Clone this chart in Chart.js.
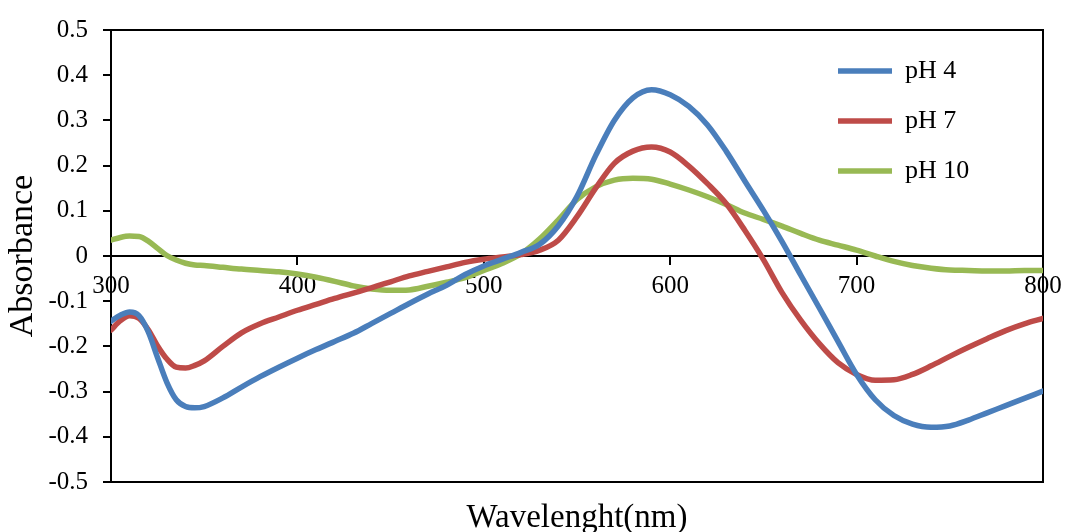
<!DOCTYPE html>
<html>
<head>
<meta charset="utf-8">
<script src="https://cdn.jsdelivr.net/npm/chart.js@4.4.1/dist/chart.umd.min.js"></script>
<style>
  html, body { margin: 0; padding: 0; background: #fff; }
  #wrap { width: 1065px; height: 532px; }
</style>
</head>
<body>
<div id="wrap"><canvas id="c" width="1065" height="532"></canvas></div>
<script>
const wavelengths = [300,305,310,315,320,325,330,335,340,345,350,360,370,380,390,400,410,420,430,440,450,460,470,480,490,500,510,520,530,540,550,560,570,580,590,600,610,620,630,640,650,660,670,680,690,700,710,720,730,740,750,760,770,780,790,800];

const pH4 = [-0.144,-0.131,-0.124,-0.132,-0.168,-0.225,-0.280,-0.318,-0.333,-0.336,-0.333,-0.314,-0.290,-0.267,-0.246,-0.226,-0.207,-0.189,-0.171,-0.149,-0.127,-0.105,-0.084,-0.065,-0.041,-0.022,-0.007,0.008,0.026,0.067,0.132,0.222,0.300,0.350,0.368,0.357,0.331,0.290,0.232,0.166,0.101,0.032,-0.042,-0.115,-0.189,-0.262,-0.318,-0.353,-0.372,-0.379,-0.376,-0.363,-0.347,-0.331,-0.315,-0.299];

const pH7 = [-0.164,-0.143,-0.132,-0.138,-0.163,-0.199,-0.228,-0.246,-0.248,-0.242,-0.232,-0.200,-0.170,-0.150,-0.135,-0.120,-0.107,-0.094,-0.082,-0.070,-0.057,-0.044,-0.034,-0.024,-0.014,-0.007,-0.002,0.003,0.013,0.035,0.087,0.150,0.205,0.232,0.241,0.230,0.199,0.160,0.116,0.057,-0.008,-0.081,-0.142,-0.194,-0.236,-0.262,-0.275,-0.274,-0.262,-0.243,-0.222,-0.202,-0.183,-0.165,-0.150,-0.138];

const pH10 = [0.035,0.041,0.044,0.043,0.033,0.017,0.001,-0.009,-0.016,-0.020,-0.021,-0.025,-0.029,-0.032,-0.035,-0.040,-0.047,-0.056,-0.066,-0.073,-0.076,-0.075,-0.067,-0.058,-0.048,-0.032,-0.016,0.005,0.038,0.080,0.125,0.153,0.168,0.172,0.170,0.159,0.146,0.131,0.114,0.095,0.081,0.066,0.050,0.035,0.024,0.013,0.000,-0.012,-0.021,-0.027,-0.031,-0.032,-0.033,-0.033,-0.032,-0.032];

const seriesLabels = ['pH 4', 'pH 7', 'pH 10'];
const xTicks = [300, 400, 500, 600, 700, 800];
const yTicks = [-0.5, -0.4, -0.3, -0.2, -0.1, 0, 0.1, 0.2, 0.3, 0.4, 0.5];
const xTitle = 'Wavelenght(nm)';
const yTitle = 'Absorbance';

const colors = ['#4A7EBB', '#BE4B48', '#98B954'];
const FONT = "'Liberation Serif', 'Times New Roman', serif";

function toPoints(vals) { return wavelengths.map((w, i) => ({ x: w, y: vals[i] })); }

const plotBox = {
  id: 'plotBox',
  beforeDatasetsDraw(chart) {
    const { ctx, chartArea: a } = chart;
    ctx.save();
    ctx.strokeStyle = '#000';
    ctx.lineWidth = 2;
    ctx.strokeRect(a.left, a.top, a.right - a.left, a.bottom - a.top);
    ctx.restore();
  }
};

const legendPlace = {
  id: 'legendPlace',
  afterLayout(chart) { place(chart); },
  beforeDraw(chart) { place(chart); }
};
function place(chart) {
  const lg = chart.legend;
  if (!lg) return;
  const w = lg.width, h = lg.height;
  lg.left = 814; lg.top = 34; lg.right = lg.left + w; lg.bottom = lg.top + h;
}

const datasets = [pH4, pH7, pH10].map((vals, i) => ({
  label: seriesLabels[i],
  data: toPoints(vals),
  borderColor: colors[i],
  backgroundColor: colors[i],
  borderWidth: 5.5,
  borderCapStyle: 'round',
  borderJoinStyle: 'round',
  pointRadius: 0,
  pointHoverRadius: 0,
  cubicInterpolationMode: 'monotone',
  fill: false
}));

new Chart(document.getElementById('c'), {
  type: 'line',
  data: { datasets },
  plugins: [plotBox, legendPlace],
  options: {
    responsive: false,
    animation: false,
    devicePixelRatio: 1,
    layout: { padding: { top: 25, right: 22, left: 0, bottom: 0 } },
    plugins: {
      tooltip: { enabled: false },
      legend: {
        position: 'chartArea',
        align: 'start',
        labels: {
          color: '#000',
          font: { family: FONT, size: 26 },
          usePointStyle: true,
          pointStyle: 'line',
          pointStyleWidth: 54,
          padding: 24
        }
      }
    },
    scales: {
      x: {
        type: 'linear',
        position: { y: 0 },
        min: 300, max: 800,
        afterBuildTicks: s => { s.ticks = xTicks.map(v => ({ value: v })); },
        afterFit: s => { s.paddingLeft = 0; s.paddingRight = 0; },
        ticks: {
          color: '#000',
          font: { family: FONT, size: 25 },
          padding: 7,
          maxRotation: 0,
          autoSkip: false,
          callback: v => String(v)
        },
        grid: { drawOnChartArea: false, drawTicks: true, tickLength: 8, color: '#000', lineWidth: 2 },
        border: { display: true, color: '#000', width: 2 },
        title: { display: false }
      },
      x2: {
        type: 'linear',
        position: 'bottom',
        min: 300, max: 800,
        ticks: { display: false },
        grid: { display: false, drawTicks: false },
        border: { display: false },
        title: {
          display: true,
          text: xTitle,
          color: '#000',
          font: { family: FONT, size: 33, lineHeight: 0.8 },
          padding: { top: 0, bottom: 0 }
        },
        afterFit: s => { s.height = 50; s.paddingLeft = 0; s.paddingRight = 0; }
      },
      y: {
        type: 'linear',
        position: 'left',
        min: -0.5, max: 0.5,
        afterBuildTicks: s => { s.ticks = yTicks.map(v => ({ value: v })); },
        afterFit: s => { s.width = 111; },
        ticks: {
          color: '#000',
          font: { family: FONT, size: 25 },
          padding: 15,
          autoSkip: false,
          callback: v => String(Number(v.toFixed(1)))
        },
        grid: { drawOnChartArea: false, drawTicks: true, tickLength: 8, color: '#000', lineWidth: 2 },
        border: { display: true, color: '#000', width: 2 },
        title: {
          display: true,
          text: yTitle,
          color: '#000',
          font: { family: FONT, size: 34 },
          padding: { top: 3, bottom: 0 }
        }
      }
    }
  }
});
</script>
</body>
</html>
